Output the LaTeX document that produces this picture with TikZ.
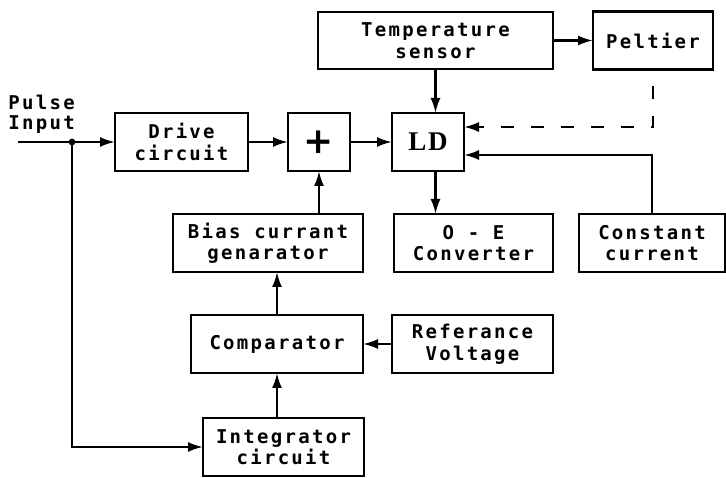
\documentclass[tikz,border=0pt]{standalone}
\usepackage{fontspec}
\usepackage{tikz}
\usetikzlibrary{arrows.meta, positioning}
\newfontfamily\labelfont[LetterSpace=12]{DejaVu Sans Mono}
\newfontfamily\ldfont[LetterSpace=6]{Liberation Serif}
\newfontfamily\plusfont{DejaVu Sans}
\tikzset{
  block/.style={rectangle, draw=black, line width=2.6pt, outer sep=0pt, inner sep=0pt, minimum height=58pt, align=center, font=\labelfont\bfseries\fontsize{19}{21.5}\selectfont},
  caption/.style={inner sep=0pt, align=right, font=\labelfont\bfseries\fontsize{19}{20}\selectfont},
  arrow/.style={-{Latex[length=15pt, width=10pt]}, line width=2.3pt},
  dasharrow/.style={arrow, dash pattern=on 13pt off 17pt, dash phase=13pt},
}

\begin{document}
\begin{tikzpicture}[node distance=40pt]
  \useasboundingbox (0,0) rectangle (726pt,-478pt);
  % top row
  \node[block, minimum width=133pt] (drive) at (181.5pt,-142pt) {Drive\\circuit};
  \node[block, minimum width=62pt, right=40pt of drive] (plus) {\plusfont\bfseries\fontsize{36}{36}\selectfont +};
  \node[block, minimum width=72pt, right=42pt of plus] (ld) {\ldfont\bfseries\fontsize{27}{27}\selectfont LD};
  \node[block, minimum width=235pt, minimum height=57pt, above=44pt of ld, xshift=7.5pt] (temp) {Temperature\\sensor};
  \node[block, minimum width=120pt, right=40pt of temp] (peltier) {Peltier};
  % lower blocks
  \node[block, minimum width=190pt, below=43pt of plus, xshift=-51pt] (bias) {Bias currant\\genarator};
  \node[block, minimum width=159pt, below=43pt of ld, xshift=45.5pt] (oe) {O - E\\Converter};
  \node[block, minimum width=146pt, right=26pt of oe] (const) {Constant\\current};
  \node[block, minimum width=172pt, below=43pt of bias, xshift=9pt] (comp) {Comparator};
  \node[block, minimum width=161pt, right=29pt of comp] (ref) {Referance\\Voltage};
  \node[block, minimum width=161pt, below=45pt of comp, xshift=6.5pt] (integ) {Integrator\\circuit};
  % input
  \coordinate[left=97pt of drive.west] (in);
  \coordinate[right=54pt of in] (split);
  \node[caption, anchor=south east] (pulse) at ([xshift=3pt, yshift=8pt]split) {Pulse\\Input};

  \draw[arrow] (in) -- (drive);
  \fill (split) circle (3.4pt);
  \draw[arrow] (split) |- (integ);
  \draw[arrow] (drive) -- (plus);
  \draw[arrow] (plus) -- (ld);
  \draw[arrow] (temp.south) -- (temp.south |- ld.north);
  \draw[arrow] (temp) -- (peltier);
  \draw[dasharrow] (peltier.south) |- ([yshift=15pt]ld.east);
  \draw[arrow] (const.north) |- ([yshift=-13pt]ld.east);
  \draw[arrow] (ld.south -| temp.south) -- (oe.north -| temp.south);
  \draw[arrow] (plus.south |- bias.north) -- (plus.south);
  \draw[arrow] (comp.north) -- (comp.north |- bias.south);
  \draw[arrow] (ref) -- (comp);
  \draw[arrow] (integ.north -| comp.south) -- (comp.south);
\end{tikzpicture}
\end{document}
